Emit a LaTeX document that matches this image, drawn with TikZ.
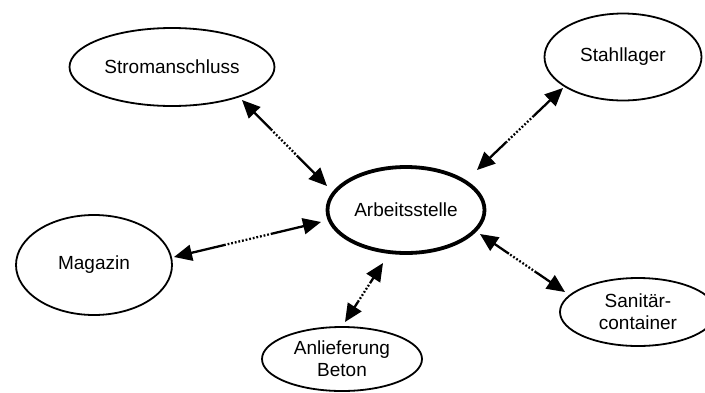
\documentclass[tikz,border=0pt]{standalone}
\usepackage{fontspec}
\setmainfont{Liberation Sans}
\usetikzlibrary{arrows.meta,calc,shapes.geometric}

\tikzset{
  place/.style={ellipse, draw, line width=1.8pt, inner sep=0pt, align=center,
    font=\fontsize{19}{22}\selectfont},
  hub/.style={place, line width=3.8pt},
  solidpart/.style={line width=2.3pt, -{Triangle[length=18pt,width=16pt]}},
  dotpart/.style={line width=2.3pt, dash pattern=on 1.8pt off 1.9pt},
}

% double-headed link: solid near both ends, dotted in the middle
\newcommand\dlink[2]{%
  \draw[solidpart] ($(#1)!0.34!(#2)$) -- (#1);
  \draw[dotpart]   ($(#1)!0.34!(#2)$) -- ($(#1)!0.66!(#2)$);
  \draw[solidpart] ($(#1)!0.66!(#2)$) -- (#2);}

\begin{document}
\begin{tikzpicture}[x=1pt, y=-1pt]
  \useasboundingbox (0,0) rectangle (705,392);
  \clip (0,0) rectangle (705,392);

  \node[hub,   minimum width=157pt, minimum height=86pt] (arb)   at (406,210) {Arbeitsstelle};
  \node[place, minimum width=205pt, minimum height=78pt] (strom) at (172,67)  {Stromanschluss};
  \node[place, minimum width=157pt, minimum height=87pt] (stahl) at (623,57)  {Stahllager};
  \node[place, minimum width=156pt, minimum height=100pt] (mag)  at (94,265)  {Magazin};
  \node[place, minimum width=156pt, minimum height=68pt] (sani)  at (638,312) {Sanitär-\\container};
  \node[place, minimum width=160pt, minimum height=64pt] (beton) at (342,359) {Anlieferung\\Beton};

  % link end points
  \coordinate (strom-e) at (242,100);  \coordinate (arb-strom) at (327,186);
  \coordinate (mag-e)   at (174,257);  \coordinate (arb-mag)   at (321,222);
  \coordinate (stahl-e) at (563,88);   \coordinate (arb-stahl) at (477,170);
  \coordinate (sani-e)  at (565,292);  \coordinate (arb-sani)  at (480,234);
  \coordinate (beton-e) at (345,322);  \coordinate (arb-beton) at (383,263);

  \dlink{strom-e}{arb-strom}
  \dlink{mag-e}{arb-mag}
  \dlink{stahl-e}{arb-stahl}
  \dlink{sani-e}{arb-sani}
  \dlink{beton-e}{arb-beton}
\end{tikzpicture}
\end{document}
